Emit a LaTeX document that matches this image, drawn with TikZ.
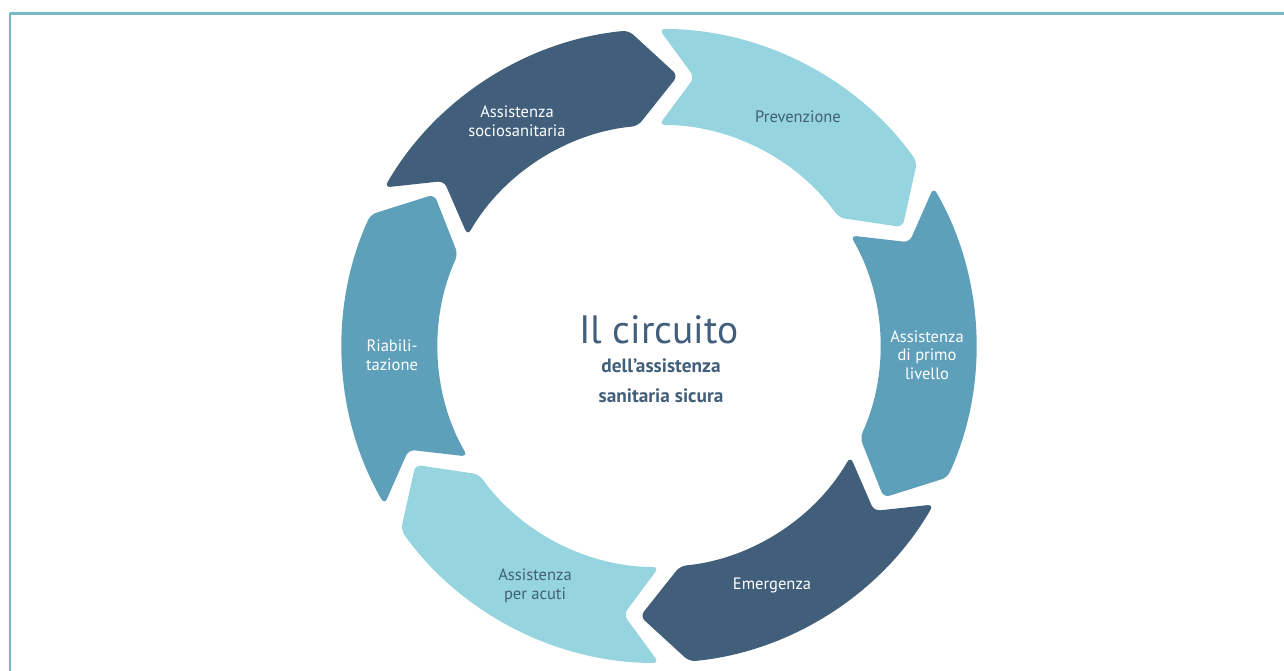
\documentclass[tikz,border=0pt]{standalone}
\usepackage{fontspec}
\setmainfont{PT Sans}
\begin{document}
\begin{tikzpicture}[x=0.02cm, y=0.02cm, line join=round,
  seglabel/.style={font=\fontsize{9.4}{10.6}\selectfont, align=center, text=white},
  seglabeldark/.style={seglabel, text=ringdark}]
  \definecolor{ringlight}{RGB}{150,213,223}
  \definecolor{ringmid}{RGB}{94,160,186}
  \definecolor{ringdark}{RGB}{65,95,122}
  \definecolor{framecol}{RGB}{118,185,199}
  \useasboundingbox (0,0) rectangle (1284,671);
  \draw[framecol, line width=1.7pt] (10,0) -- (10,657) -- (1284,657);
  \begin{scope}[shift={(659,325)}]
    % six chevron pieces, clockwise from the top
    \foreach \t/\c in {90/ringlight, 30/ringmid, -30/ringdark, -90/ringlight, -150/ringmid, 150/ringdark}
      \fill[\c, rounded corners=3.5pt] (\t:317) arc[start angle=\t, end angle=\t-54.5, radius=317]
        -- (\t-64:271) -- (\t-54.5:221) arc[start angle=\t-54.5, end angle=\t, radius=221]
        -- (\t-7.5:271) -- cycle;
    \node[seglabeldark] (prev) at (139,229) {Prevenzione};
    \node[seglabel] (primo) at (268,-9) {Assistenza\\di primo\\livello};
    \node[seglabel] (emerg) at (113,-239) {Emergenza};
    \node[seglabeldark] (acuti) at (-124,-240) {Assistenza\\per acuti};
    \node[seglabel] (riab) at (-267,-9) {Riabili-\\tazione};
    \node[seglabel] (socio) at (-142,225) {Assistenza\\sociosanitaria};
    \node[text=ringdark, font=\fontsize{22.5}{26}\selectfont] (title) at (0,16) {Il circuito};
    \node[text=ringdark, font=\bfseries\fontsize{11}{17}\selectfont, align=center] (subtitle) at (2,-35) {dell’assistenza\\sanitaria sicura};
  \end{scope}
\end{tikzpicture}
\end{document}
